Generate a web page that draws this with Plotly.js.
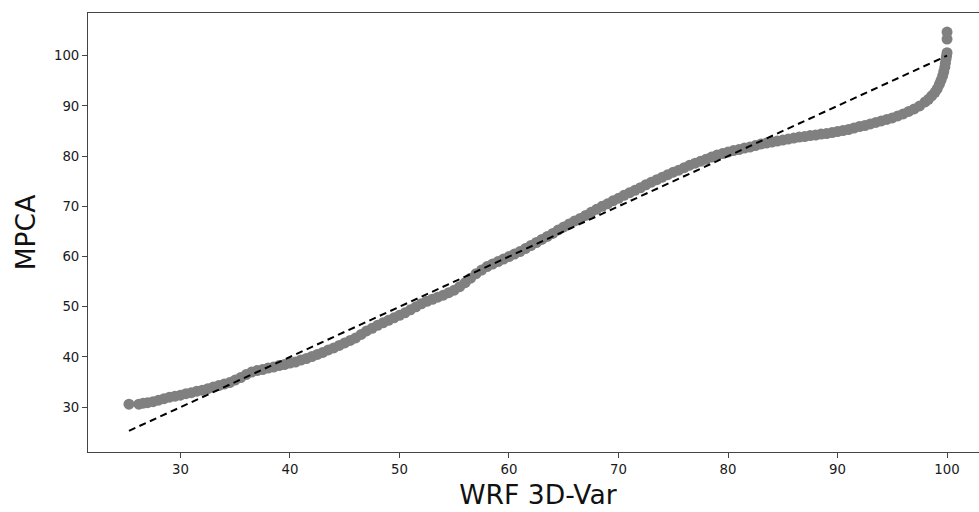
<!DOCTYPE html>
<html>
<head>
<meta charset="utf-8">
<script src="https://cdn.plot.ly/plotly-3.0.1.min.js"></script>
<style>
html, body { margin: 0; padding: 0; overflow: hidden; background: #fff; }
#chart { width: 990px; height: 512px; }
</style>
</head>
<body>
<div id="chart"></div>
<script>
// Quantiles
const wrfQuantiles = [
  25.3, 26.2, 26.6, 27.0, 27.5, 28.0, 28.5, 29.0, 29.5, 30.0,
  30.5, 31.0, 31.5, 32.0, 32.5, 33.0, 33.5, 34.0, 34.5, 35.0,
  35.5, 36.0, 36.5, 37.0, 37.5, 38.0, 38.5, 39.0, 39.5, 40.0,
  40.5, 41.0, 41.5, 42.0, 42.5, 43.0, 43.5, 44.0, 44.5, 45.0,
  45.5, 46.0, 46.5, 47.0, 47.5, 48.0, 48.5, 49.0, 49.5, 50.0,
  50.5, 51.0, 51.5, 52.0, 52.5, 53.0, 53.5, 54.0, 54.5, 55.0,
  55.5, 56.0, 56.5, 57.0, 57.5, 58.0, 58.5, 59.0, 59.5, 60.0,
  60.5, 61.0, 61.5, 62.0, 62.5, 63.0, 63.5, 64.0, 64.5, 65.0,
  65.5, 66.0, 66.5, 67.0, 67.5, 68.0, 68.5, 69.0, 69.5, 70.0,
  70.5, 71.0, 71.5, 72.0, 72.5, 73.0, 73.5, 74.0, 74.5, 75.0,
  75.5, 76.0, 76.5, 77.0, 77.5, 78.0, 78.5, 79.0, 79.5, 80.0,
  80.5, 81.0, 81.5, 82.0, 82.5, 83.0, 83.5, 84.0, 84.5, 85.0,
  85.5, 86.0, 86.5, 87.0, 87.5, 88.0, 88.5, 89.0, 89.5, 90.0,
  90.5, 91.0, 91.5, 92.0, 92.5, 93.0, 93.5, 94.0, 94.5, 95.0,
  95.5, 96.0, 96.5, 97.0, 97.5, 98.0, 98.3, 98.6, 98.9, 99.1,
  99.3, 99.45, 99.6, 99.7, 99.8, 99.85, 99.9, 99.95, 100.0, 100.0,
  100.0
];
const mpcaQuantiles = [
  30.6, 30.6, 30.8, 30.9, 31.1, 31.4, 31.7, 32.0, 32.2, 32.4,
  32.7, 32.9, 33.2, 33.4, 33.7, 34.0, 34.3, 34.6, 34.9, 35.4,
  35.9, 36.5, 37.0, 37.3, 37.5, 37.8, 38.0, 38.3, 38.5, 38.8,
  39.0, 39.4, 39.7, 40.1, 40.5, 40.9, 41.4, 41.8, 42.3, 42.8,
  43.3, 43.8, 44.5, 45.2, 45.7, 46.3, 46.8, 47.3, 47.8, 48.3,
  48.8, 49.4, 50.0, 50.6, 51.1, 51.5, 51.9, 52.3, 52.8, 53.3,
  54.0, 54.8, 55.7, 56.6, 57.3, 58.0, 58.5, 59.0, 59.5, 60.0,
  60.5, 61.0, 61.6, 62.2, 62.8, 63.4, 64.0, 64.6, 65.3, 65.9,
  66.5, 67.1, 67.6, 68.2, 68.8, 69.4, 70.0, 70.5, 71.1, 71.6,
  72.2, 72.7, 73.2, 73.7, 74.3, 74.8, 75.3, 75.8, 76.3, 76.8,
  77.2, 77.7, 78.2, 78.6, 79.0, 79.4, 79.8, 80.2, 80.5, 80.8,
  81.1, 81.3, 81.6, 81.8, 82.1, 82.4, 82.6, 82.8, 83.0, 83.2,
  83.4, 83.6, 83.8, 83.9, 84.1, 84.2, 84.4, 84.5, 84.7, 84.9,
  85.1, 85.3, 85.6, 85.9, 86.1, 86.4, 86.7, 87.0, 87.3, 87.6,
  88.0, 88.4, 88.9, 89.4, 90.0, 90.8, 91.3, 92.0, 92.7, 93.4,
  94.3, 95.1, 96.0, 96.8, 97.7, 98.5, 99.3, 99.9, 100.6, 103.3,
  104.7
];
// 45-degree reference line endpoints
const refLine = [25.3, 100.0];
const tickValues = [30, 40, 50, 60, 70, 80, 90, 100];
const tickLabels = ["30", "40", "50", "60", "70", "80", "90", "100"];

const scatter = {
  type: 'scatter', mode: 'markers',
  x: wrfQuantiles, y: mpcaQuantiles,
  marker: { color: '#808080', size: 11, line: { width: 0 } },
  hoverinfo: 'x+y', showlegend: false
};
const diag = {
  type: 'scatter', mode: 'lines',
  x: refLine, y: refLine,
  line: { color: '#000000', width: 2, dash: '7px,4.5px' },
  showlegend: false
};

const axisCommon = {
  showline: true, linecolor: '#444', linewidth: 1, mirror: true,
  ticks: 'outside', ticklen: 5, tickwidth: 1, tickcolor: '#444',
  showgrid: false, zeroline: false,
  tickfont: { family: 'DejaVu Sans', size: 13.3, color: '#1a1a1a' }
};

const layout = {
  width: 990, height: 512,
  margin: { l: 88, r: 2, t: 13, b: 60 },
  paper_bgcolor: '#fff', plot_bgcolor: '#fff',
  font: { family: 'DejaVu Sans' },
  xaxis: Object.assign({}, axisCommon, {
    range: [21.56, 103.74],
    tickvals: tickValues, ticktext: tickLabels,
    title: { text: 'WRF 3D-Var', font: { family: 'DejaVu Sans', size: 26.6, color: '#111' }, standoff: 9 }
  }),
  yaxis: Object.assign({}, axisCommon, {
    range: [21.08, 108.5],
    tickvals: tickValues, ticktext: tickLabels,
    title: { text: 'MPCA', font: { family: 'DejaVu Sans', size: 26.6, color: '#111' }, standoff: 10 }
  })
};

Plotly.newPlot('chart', [scatter, diag], layout, { displayModeBar: false, staticPlot: true });
</script>
</body>
</html>
